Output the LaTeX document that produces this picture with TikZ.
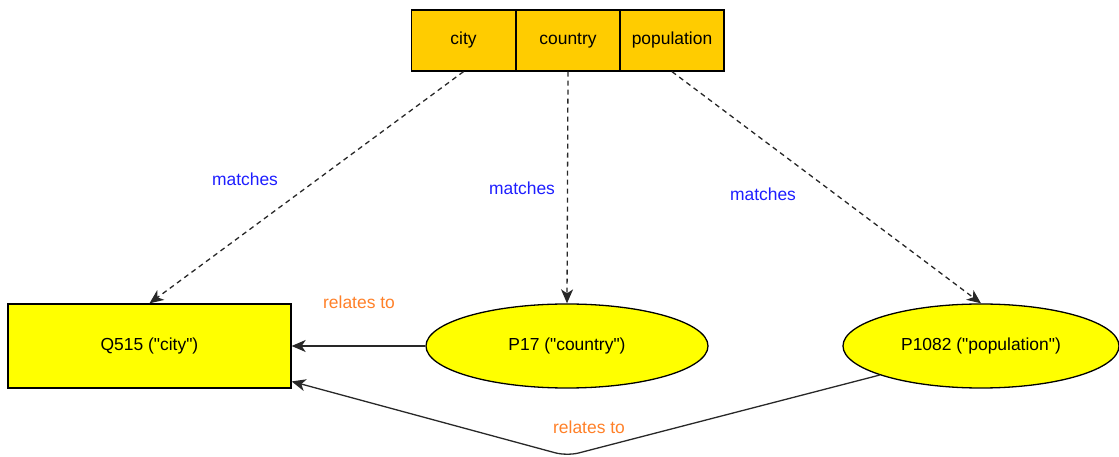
\documentclass[tikz,border=0pt]{standalone}
\usepackage{fontspec}
\setmainfont{Liberation Sans}[Ligatures=TeXOff]
\usetikzlibrary{arrows.meta,shapes.geometric}
\definecolor{cellfill}{RGB}{255,204,0}
\definecolor{nodefill}{RGB}{255,255,0}
\definecolor{matchblue}{RGB}{30,30,255}
\definecolor{relorange}{RGB}{255,128,40}
\definecolor{linegray}{RGB}{40,40,40}
\tikzset{
  txt/.style={font=\fontsize{17.5}{20}\selectfont},
  cell/.style={txt, text height=0.85em, text depth=0em, draw=black, line width=1.3bp, fill=cellfill, minimum width=104bp, minimum height=61bp, inner sep=0pt},
  entity/.style={txt, draw=black, line width=1.3bp, fill=nodefill, minimum width=283bp, minimum height=84bp, inner sep=0pt},
  prop/.style={txt, ellipse, draw=black, line width=1.3bp, fill=nodefill, minimum height=84bp, inner sep=0pt},
  matchlink/.style={draw=linegray, line width=1.3bp, dash pattern=on 5bp off 4bp, -{Stealth[length=14bp,width=12bp,inset=4bp]}},
  rellink/.style={draw=linegray, line width=1.3bp, -{Stealth[length=14bp,width=12bp,inset=4bp]}},
  matchlabel/.style={txt, text=matchblue},
  rellabel/.style={txt, text=relorange}
}
\begin{document}
\begin{tikzpicture}[x=1bp,y=-1bp]
\useasboundingbox (0,0) rectangle (1119,457);
\node[cell] (city) at (463.5,40.5) {city};
\node[cell] (country) at (568,40.5) {country};
\node[cell] (population) at (672,40.5) {population};
\node[entity] (q515) at (149.5,346) {Q515 ("city")};
\node[prop, minimum width=282bp] (p17) at (567,346) {P17 ("country")};
\node[prop, minimum width=276bp] (p1082) at (981,346) {P1082 ("population")};
\coordinate (bend) at (567,456);
\draw[matchlink] (city.south) -- (q515.north);
\draw[matchlink] (country.south) -- (p17.north);
\draw[matchlink] (population.south) -- (p1082.north);
\draw[rellink] (p17.west) -- (q515.east);
\draw[rellink, rounded corners=12bp] (p1082.196) -- (bend) -- (q515.-14.7);
\node[matchlabel] (m1) at (245,179) {matches};
\node[matchlabel] (m2) at (522,188) {matches};
\node[matchlabel] (m3) at (763,194) {matches};
\node[rellabel] (r1) at (359,302) {relates to};
\node[rellabel] (r2) at (589,427) {relates to};
\end{tikzpicture}
\end{document}
